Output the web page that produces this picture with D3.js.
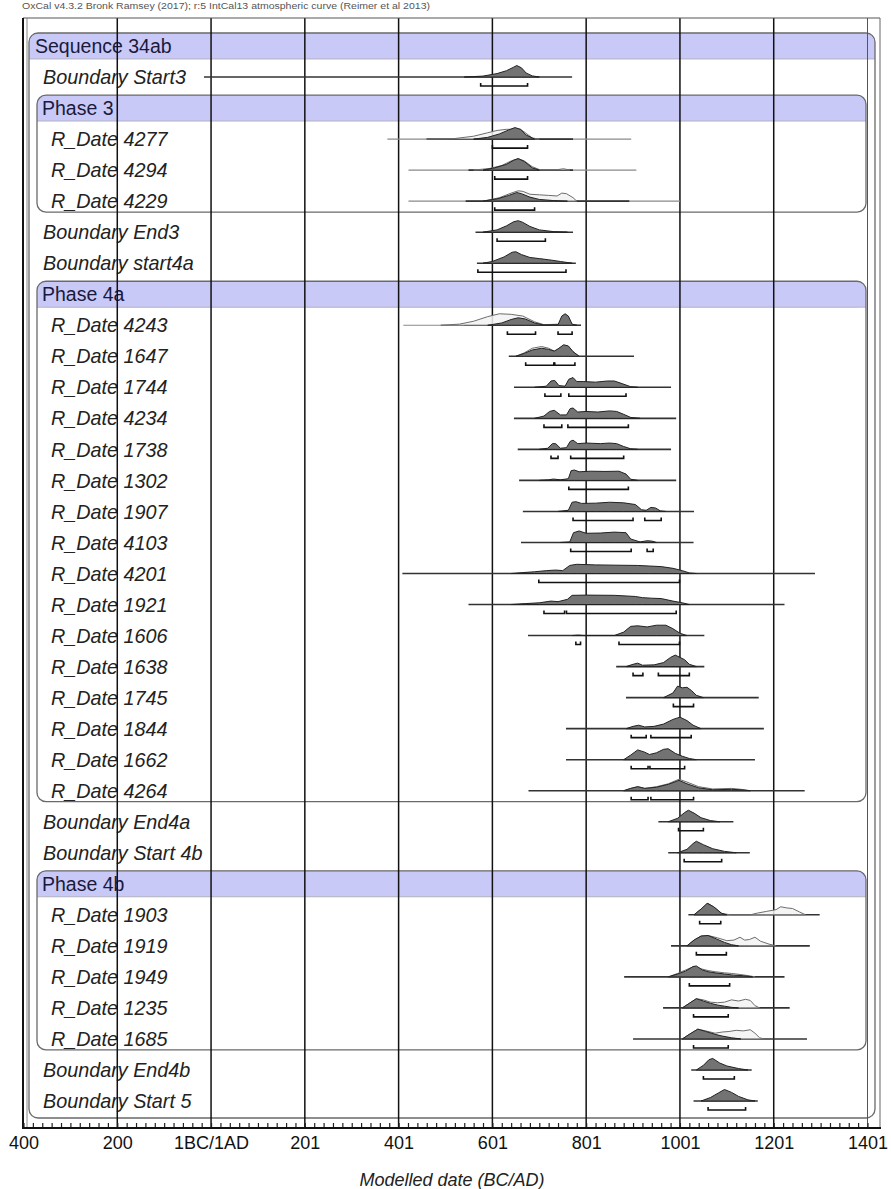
<!DOCTYPE html>
<html>
<head>
<meta charset="utf-8">
<script src="https://cdn.jsdelivr.net/npm/d3@7/dist/d3.min.js"></script>
<style>
  body { margin: 0; background: #fff; }
  svg { display: block; }
  text { font-family: "Liberation Sans", Arial, sans-serif; }
</style>
</head>
<body>
<div id="chart"></div>
<script>
// rows of the multiplot, top to bottom
const rowLabels = [
  'Sequence 34ab', 'Boundary Start3',
  'Phase 3', 'R_Date 4277', 'R_Date 4294', 'R_Date 4229',
  'Boundary End3', 'Boundary start4a',
  'Phase 4a', 'R_Date 4243', 'R_Date 1647', 'R_Date 1744', 'R_Date 4234', 'R_Date 1738',
  'R_Date 1302', 'R_Date 1907', 'R_Date 4103', 'R_Date 4201', 'R_Date 1921', 'R_Date 1606',
  'R_Date 1638', 'R_Date 1745', 'R_Date 1844', 'R_Date 1662', 'R_Date 4264',
  'Boundary End4a', 'Boundary Start 4b',
  'Phase 4b', 'R_Date 1903', 'R_Date 1919', 'R_Date 1949', 'R_Date 1235', 'R_Date 1685',
  'Boundary End4b', 'Boundary Start 5'
];

// phase name -> last row inside it
const phaseBlocks = [
  ['Phase 3', 'R_Date 4229'],
  ['Phase 4a', 'R_Date 4264'],
  ['Phase 4b', 'R_Date 1685']
];

// full extent line of each row (years, astronomical)
const spans = {
  'Boundary Start3': [-15, 770],
  'R_Date 4277': [376, 896], 'R_Date 4294': [421, 907], 'R_Date 4229': [421, 1000],
  'Boundary End3': [564, 772], 'Boundary start4a': [567, 778],
  'R_Date 4243': [410, 789], 'R_Date 1647': [635, 902], 'R_Date 1744': [646, 981],
  'R_Date 4234': [646, 992], 'R_Date 1738': [654, 981], 'R_Date 1302': [657, 992],
  'R_Date 1907': [665, 1030], 'R_Date 4103': [661, 1029], 'R_Date 4201': [408, 1288],
  'R_Date 1921': [549, 1223], 'R_Date 1606': [676, 1052], 'R_Date 1638': [864, 1052],
  'R_Date 1745': [885, 1168], 'R_Date 1844': [757, 1179], 'R_Date 1662': [757, 1160],
  'R_Date 4264': [677, 1266],
  'Boundary End4a': [954, 1114], 'Boundary Start 4b': [975, 1149],
  'R_Date 1903': [1018, 1298], 'R_Date 1919': [981, 1277], 'R_Date 1949': [881, 1223],
  'R_Date 1235': [964, 1234], 'R_Date 1685': [900, 1271],
  'Boundary End4b': [1024, 1153], 'Boundary Start 5': [1029, 1166]
};

// darker inner part of the extent line where it is visible
const innerSpans = {
  'R_Date 4277': [460, 772], 'R_Date 4294': [549, 772], 'R_Date 4229': [543, 892],
  'R_Date 4243': [540, 789]
};

// unmodelled likelihoods (outline), [year, relative height]
const likelihoods = {
  'R_Date 4277': [[460,0],[520,.05],[560,.25],[590,.55],[610,.75],[630,.85],[660,.85],[672,.5],[685,.1],[700,0]],
  'R_Date 4294': [[560,0],[595,.15],[620,.4],[640,.8],[655,1],[668,.8],[685,.3],[700,.05],[740,.05],[752,.12],[765,0]],
  'R_Date 4229': [[580,0],[615,.3],[640,.7],[655,.9],[665,.85],[680,.6],[700,.55],[720,.5],[738,.45],[748,.7],[758,.65],[772,.3],[780,0]],
  'R_Date 4243': [[490,0],[530,.1],[560,.35],[590,.75],[615,1],[640,.95],[665,.8],[690,.3],[710,.05],[745,.1],[755,.3],[765,.1],[775,0]],
  'R_Date 1647': [[650,0],[668,.3],[685,.7],[705,.85],[720,.7],[732,.45],[740,.6],[752,.95],[762,.85],[772,.4],[785,0]],
  'R_Date 4264': [[880,0],[895,.2],[910,.35],[925,.2],[950,.35],[975,.6],[998,1],[1015,.75],[1040,.35],[1070,.15],[1110,.2],[1130,.12],[1150,0]],
  'R_Date 1903': [[1030,0],[1045,.5],[1060,1],[1075,.6],[1090,.1],[1110,0],[1150,0],[1165,.15],[1185,.3],[1205,.45],[1215,.7],[1228,.6],[1240,.55],[1255,.25],[1268,0]],
  'R_Date 1919': [[1015,0],[1030,.5],[1045,.85],[1060,.9],[1080,.7],[1100,.45],[1115,.5],[1128,.75],[1138,.5],[1148,.55],[1160,.75],[1172,.4],[1190,.15],[1205,0]],
  'R_Date 1949': [[975,0],[995,.3],[1012,.6],[1030,.9],[1045,.7],[1060,.55],[1075,.45],[1095,.35],[1110,.3],[1130,.2],[1150,.08],[1160,0]],
  'R_Date 1235': [[1005,0],[1020,.4],[1035,.8],[1050,.7],[1065,.5],[1080,.45],[1095,.5],[1110,.7],[1125,.6],[1140,.75],[1150,.65],[1160,.2],[1170,0]],
  'R_Date 1685': [[1005,0],[1020,.4],[1038,.85],[1055,.7],[1075,.5],[1090,.6],[1105,.65],[1120,.75],[1135,.7],[1150,.8],[1160,.5],[1170,.1],[1180,0]]
};

// modelled posteriors (filled), [year, relative height]
const posteriors = {
  'Boundary Start3': [[540,0],[580,.08],[610,.3],[630,.55],[645,.85],[652,1],[662,.8],[672,.35],[685,.1],[700,0]],
  'R_Date 4277': [[560,0],[590,.15],[615,.45],[635,.8],[648,1],[660,.85],[672,.35],[690,0]],
  'R_Date 4294': [[580,0],[605,.2],[630,.5],[645,.85],[655,1],[668,.75],[685,.2],[700,0]],
  'R_Date 4229': [[580,0],[610,.2],[635,.5],[652,.75],[662,.65],[680,.35],[700,.15],[730,.05],[760,0]],
  'Boundary End3': [[580,0],[610,.2],[630,.55],[645,.9],[655,1],[665,.85],[680,.5],[700,.2],[730,.05],[760,0]],
  'Boundary start4a': [[580,0],[600,.15],[625,.55],[642,.95],[650,1],[662,.75],[680,.5],[700,.4],[720,.3],[745,.15],[770,0]],
  'R_Date 4243': [[590,0],[620,.2],[640,.5],[655,.65],[670,.55],[690,.2],[710,.02],[740,.05],[748,.8],[755,1],[762,.8],[770,.1],[780,0]],
  'R_Date 1647': [[650,0],[668,.25],[685,.55],[705,.7],[720,.6],[732,.45],[740,.65],[752,1],[762,.9],[772,.4],[785,0]],
  'R_Date 1744': [[690,0],[715,.1],[725,.55],[733,.6],[742,.15],[755,.1],[763,.7],[772,.85],[780,.5],[795,.5],[820,.45],[845,.55],[860,.55],[878,.3],[895,.05],[910,0]],
  'R_Date 4234': [[690,0],[710,.2],[722,.6],[732,.7],[745,.3],[758,.3],[766,.85],[772,.9],[782,.55],[800,.6],[825,.55],[850,.65],[865,.6],[880,.35],[895,.08],[915,0]],
  'R_Date 1738': [[700,0],[718,.1],[728,.5],[735,.5],[745,.1],[758,.15],[766,.7],[772,.8],[782,.5],[800,.55],[830,.5],[850,.55],[865,.5],[880,.25],[895,.05],[910,0]],
  'R_Date 1302': [[700,0],[720,.05],[730,.12],[745,.05],[762,.15],[768,.85],[775,.9],[785,.75],[810,.8],[840,.78],[870,.8],[885,.55],[895,.1],[910,0]],
  'R_Date 1907': [[740,0],[762,.1],[770,.8],[778,.85],[790,.7],[820,.72],[850,.8],[880,.75],[905,.6],[918,.15],[928,.1],[938,.35],[948,.3],[958,.05],[970,0]],
  'R_Date 4103': [[745,0],[765,.05],[773,.85],[785,1],[800,.8],[830,.82],[860,.9],[885,.85],[895,.3],[915,.05],[930,.15],[940,.12],[950,0]],
  'R_Date 4201': [[640,0],[665,.08],[690,.15],[715,.25],[735,.3],[750,.25],[765,.7],[780,.8],[820,.75],[870,.72],[910,.7],[935,.65],[960,.6],[985,.45],[1005,.25],[1020,.05],[1035,0]],
  'R_Date 1921': [[640,0],[670,.08],[700,.15],[725,.3],[740,.25],[760,.45],[770,.8],[800,.82],[860,.8],[905,.7],[920,.6],[940,.55],[960,.52],[985,.3],[1005,.15],[1020,0]],
  'R_Date 1606': [[770,0],[783,.04],[795,0],[860,0],[880,.3],[895,.8],[910,.85],[930,.75],[950,.9],[970,.9],[985,.6],[1000,.2],[1015,0]],
  'R_Date 1638': [[885,0],[900,.2],[910,.3],[920,.12],[945,.15],[965,.35],[980,.8],[990,1],[1000,.8],[1010,.6],[1020,.2],[1035,0]],
  'R_Date 1745': [[965,0],[985,.4],[995,1],[1005,.85],[1015,.9],[1025,.6],[1035,.2],[1050,0]],
  'R_Date 1844': [[885,0],[900,.2],[912,.3],[925,.15],[945,.2],[965,.4],[985,.8],[1000,1],[1015,.7],[1028,.3],[1045,0]],
  'R_Date 1662': [[880,0],[895,.4],[910,.85],[925,.65],[935,.45],[950,.6],[965,.9],[975,.95],[990,.55],[1005,.3],[1020,.1],[1035,0]],
  'R_Date 4264': [[880,0],[895,.2],[910,.35],[925,.2],[950,.3],[975,.55],[998,.9],[1015,.6],[1040,.25],[1070,.08],[1110,.12],[1130,.08],[1150,0]],
  'Boundary End4a': [[975,0],[995,.3],[1010,.8],[1018,1],[1030,.75],[1045,.35],[1065,.1],[1085,0]],
  'Boundary Start 4b': [[995,0],[1015,.3],[1028,.8],[1035,1],[1050,.7],[1070,.35],[1095,.12],[1120,0]],
  'R_Date 1903': [[1030,0],[1045,.5],[1058,1],[1072,.7],[1088,.15],[1100,0]],
  'R_Date 1919': [[1015,0],[1030,.5],[1045,.85],[1060,.9],[1078,.6],[1095,.3],[1110,.1],[1125,0]],
  'R_Date 1949': [[975,0],[995,.25],[1012,.5],[1028,.9],[1035,.95],[1048,.6],[1060,.45],[1075,.35],[1095,.25],[1115,.15],[1135,.1],[1155,0]],
  'R_Date 1235': [[1005,0],[1020,.4],[1035,.8],[1050,.6],[1065,.4],[1080,.25],[1095,.15],[1110,.05],[1125,0]],
  'R_Date 1685': [[1005,0],[1020,.4],[1038,.85],[1055,.65],[1075,.4],[1090,.25],[1110,.1],[1130,0]],
  'Boundary End4b': [[1035,0],[1050,.4],[1062,.9],[1070,1],[1085,.6],[1100,.35],[1125,.12],[1145,0]],
  'Boundary Start 5': [[1045,0],[1065,.3],[1082,.7],[1095,1],[1110,.75],[1125,.4],[1145,.1],[1160,0]]
};

// 95.4% ranges drawn as brackets under each row
const ranges = {
  'Boundary Start3': [[575, 675]],
  'R_Date 4277': [[600, 675]], 'R_Date 4294': [[605, 675]], 'R_Date 4229': [[605, 690]],
  'Boundary End3': [[610, 713]], 'Boundary start4a': [[569, 757]],
  'R_Date 4243': [[632, 692], [740, 770]], 'R_Date 1647': [[671, 731], [733, 776]],
  'R_Date 1744': [[712, 746], [763, 885]], 'R_Date 4234': [[710, 748], [761, 890]],
  'R_Date 1738': [[725, 740], [767, 880]], 'R_Date 1302': [[763, 890]],
  'R_Date 1907': [[772, 900], [925, 960]], 'R_Date 4103': [[767, 896], [930, 943]],
  'R_Date 4201': [[699, 999]], 'R_Date 1921': [[710, 754], [758, 992]],
  'R_Date 1606': [[778, 788], [870, 999]], 'R_Date 1638': [[900, 921], [954, 1020]],
  'R_Date 1745': [[986, 1029]], 'R_Date 1844': [[896, 928], [938, 1024]],
  'R_Date 1662': [[896, 932], [936, 1010]], 'R_Date 4264': [[896, 932], [938, 1029]],
  'Boundary End4a': [[997, 1050]], 'Boundary Start 4b': [[1009, 1089]],
  'R_Date 1903': [[1042, 1087]], 'R_Date 1919': [[1035, 1099]], 'R_Date 1949': [[1020, 1106]],
  'R_Date 1235': [[1029, 1103]], 'R_Date 1685': [[1029, 1103]],
  'Boundary End4b': [[1050, 1116]], 'Boundary Start 5': [[1060, 1140]]
};

const gridYears = [-400, -200, 0, 200, 400, 600, 800, 1000, 1200, 1400];
const tickLabels = ['400', '200', '1BC/1AD', '201', '401', '601', '801', '1001', '1201', '1401'];
const headerNote = 'OxCal v4.3.2 Bronk Ramsey (2017); r:5 IntCal13 atmospheric curve (Reimer et al 2013)';
const axisTitle = 'Modelled date (BC/AD)';

const width = 891, height = 1189;
const frameTop = 18, axisY = 1128;
const lavender = '#c9c9f8';

const svg = d3.select('#chart').append('svg')
  .attr('width', width)
  .attr('height', height);

const x = d3.scaleLinear().domain([-400, 1400]).range([23.5, 867.5]);
const y = d3.scalePoint().domain(rowLabels).range([46, 1101]);
const h = d3.scaleLinear().domain([0, 1]).range([0, 11.5]);

const isHeader = d => d.startsWith('Sequence') || d.startsWith('Phase');

// tiny OxCal note at the top
svg.append('text')
  .attr('x', 22).attr('y', 9)
  .attr('font-size', 8.5)
  .attr('fill', '#555')
  .attr('textLength', 408)
  .attr('lengthAdjust', 'spacingAndGlyphs')
  .text(headerNote);

// boxes: sequence then phases
function drawBox(x0, x1, y0, y1) {
  const g = svg.append('g');
  g.append('rect')
    .attr('x', x0).attr('y', y0)
    .attr('width', x1 - x0).attr('height', y1 - y0)
    .attr('rx', 9)
    .attr('fill', '#fff');
  g.append('rect')
    .attr('x', x0).attr('y', y0)
    .attr('width', x1 - x0).attr('height', 26)
    .attr('rx', 9)
    .attr('fill', lavender);
  g.append('rect')
    .attr('x', x0).attr('y', y0 + 12)
    .attr('width', x1 - x0).attr('height', 14)
    .attr('fill', lavender);
  g.append('line')
    .attr('x1', x0).attr('x2', x1)
    .attr('y1', y0 + 26).attr('y2', y0 + 26)
    .attr('stroke', '#aaa').attr('stroke-width', 0.8);
  g.append('rect')
    .attr('x', x0).attr('y', y0)
    .attr('width', x1 - x0).attr('height', y1 - y0)
    .attr('rx', 9)
    .attr('fill', 'none')
    .attr('stroke', '#6a6a6a')
    .attr('stroke-width', 1.3);
}

drawBox(29, 875, y('Sequence 34ab') - 13, axisY - 10);
phaseBlocks.forEach(([name, last]) => {
  drawBox(37, 866, y(name) - 13, y(last) + 11);
});

// row labels
svg.append('g').selectAll('text')
  .data(rowLabels)
  .enter()
  .append('text')
  .attr('x', d => d.startsWith('Sequence') ? 35 : d.startsWith('Phase') ? 42 : d.startsWith('R_Date') ? 51 : 43)
  .attr('y', d => y(d))
  .attr('dy', '0.36em')
  .attr('font-size', d => isHeader(d) ? 19.5 : 19.8)
  .attr('font-style', d => isHeader(d) ? 'normal' : 'italic')
  .attr('fill', d => isHeader(d) ? '#1a1a3c' : '#222')
  .text(d => d);

// vertical grid lines
svg.append('g').selectAll('line')
  .data(gridYears.slice(1))
  .enter()
  .append('line')
  .attr('x1', d => x(d)).attr('x2', d => x(d))
  .attr('y1', frameTop).attr('y2', axisY)
  .attr('stroke', d => d === 1400 ? '#555' : '#111')
  .attr('stroke-width', d => d === 1400 ? 1 : 1.5);

// distributions
const dataRows = rowLabels.filter(d => !isHeader(d));
const area = row => d3.area()
  .x(d => x(d[0]))
  .y0(y(row))
  .y1(d => y(row) - h(d[1]));

const rows = svg.append('g').selectAll('g')
  .data(dataRows)
  .enter()
  .append('g');

rows.append('line')
  .attr('x1', d => x(spans[d][0])).attr('x2', d => x(spans[d][1]))
  .attr('y1', d => y(d)).attr('y2', d => y(d))
  .attr('stroke', d => innerSpans[d] ? '#8a8a8a' : '#333')
  .attr('stroke-width', d => innerSpans[d] ? 1.2 : 1.6);

rows.filter(d => innerSpans[d])
  .append('line')
  .attr('x1', d => x(innerSpans[d][0])).attr('x2', d => x(innerSpans[d][1]))
  .attr('y1', d => y(d)).attr('y2', d => y(d))
  .attr('stroke', '#333')
  .attr('stroke-width', 1.6);

rows.filter(d => likelihoods[d])
  .append('path')
  .attr('d', d => area(d)(likelihoods[d]))
  .attr('fill', '#f2f2f2')
  .attr('fill-opacity', 0.85)
  .attr('stroke', '#6d6d6d')
  .attr('stroke-width', 1);

rows.filter(d => posteriors[d])
  .append('path')
  .attr('d', d => area(d)(posteriors[d]))
  .attr('fill', '#737373')
  .attr('stroke', '#222')
  .attr('stroke-width', 1);

rows.selectAll('path.range')
  .data(d => ranges[d].map(r => ({ row: d, r })))
  .enter()
  .append('path')
  .attr('class', 'range')
  .attr('d', d => {
    const yy = y(d.row) + 9;
    const x0 = x(d.r[0]), x1 = x(d.r[1]);
    return `M${x0},${yy - 3}L${x0},${yy}L${x1},${yy}L${x1},${yy - 3}`;
  })
  .attr('fill', 'none')
  .attr('stroke', '#111')
  .attr('stroke-width', 1.6);

// frame
svg.append('line')
  .attr('x1', 23).attr('x2', 880)
  .attr('y1', frameTop).attr('y2', frameTop)
  .attr('stroke', '#555').attr('stroke-width', 1);
svg.append('line')
  .attr('x1', 23).attr('x2', 23)
  .attr('y1', frameTop).attr('y2', axisY)
  .attr('stroke', '#111').attr('stroke-width', 2);
svg.append('line')
  .attr('x1', 27).attr('x2', 27)
  .attr('y1', frameTop).attr('y2', axisY)
  .attr('stroke', '#888').attr('stroke-width', 1);
svg.append('line')
  .attr('x1', 880).attr('x2', 880)
  .attr('y1', frameTop).attr('y2', axisY)
  .attr('stroke', '#666').attr('stroke-width', 1);

// minor ticks pointing up
const minor = svg.append('g')
  .attr('transform', `translate(0,${axisY})`)
  .call(d3.axisTop(x).tickValues(d3.range(-400, 1401, 20)).tickSize(5).tickFormat(''));
minor.select('.domain').remove();
minor.selectAll('line').attr('stroke', '#222').attr('stroke-width', 1.2);

// labelled axis
const axis = svg.append('g')
  .attr('transform', `translate(0,${axisY})`)
  .call(d3.axisBottom(x)
    .tickValues(gridYears)
    .tickSize(0)
    .tickPadding(8)
    .tickFormat((d, i) => tickLabels[i]));
axis.select('.domain').remove();
axis.selectAll('text')
  .attr('font-size', 18)
  .attr('font-family', '"Liberation Sans", Arial, sans-serif')
  .attr('fill', '#111');

svg.append('line')
  .attr('x1', 22).attr('x2', 881)
  .attr('y1', axisY).attr('y2', axisY)
  .attr('stroke', '#111').attr('stroke-width', 2);

svg.append('text')
  .attr('x', 452).attr('y', 1186)
  .attr('text-anchor', 'middle')
  .attr('font-size', 18)
  .attr('font-style', 'italic')
  .attr('fill', '#222')
  .text(axisTitle);
</script>
</body>
</html>
